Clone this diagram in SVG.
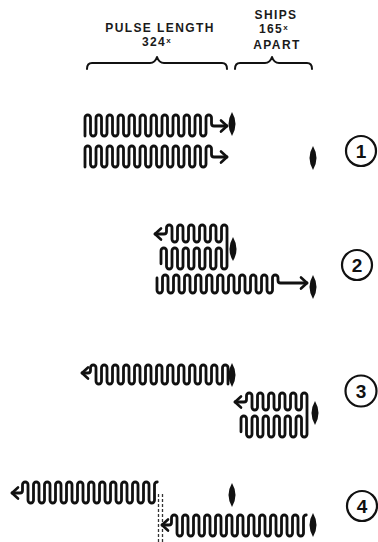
<svg xmlns="http://www.w3.org/2000/svg" width="378" height="542" viewBox="0 0 378 542">
<style>
.bg{fill:#ffffff}
.wave{fill:none;stroke:#111;stroke-width:2.8;stroke-linecap:round;stroke-linejoin:round}
.head{fill:none;stroke:#111;stroke-width:2.6;stroke-linecap:round;stroke-linejoin:round}
.brace{fill:none;stroke:#111;stroke-width:2;stroke-linecap:round;stroke-linejoin:round}
.ship{fill:#111}
.lbl{font-family:"Liberation Sans",Arial,sans-serif;font-weight:bold;font-size:12px;fill:#1a1a1a;letter-spacing:1.4px}
.num{font-family:"Liberation Sans",Arial,sans-serif;font-weight:bold;font-size:19px;fill:#111}
.ring{fill:none;stroke:#111;stroke-width:2.2}
.dash{fill:none;stroke:#333;stroke-width:1.3;stroke-dasharray:3 2}
</style>
<defs>
<path id="ship" class="ship" d="M0,-12Q7,0 0,12Q-7,0 0,-12Z"/>
</defs>
<rect class="bg" x="0" y="0" width="378" height="542"/>

<g id="header">
<text class="lbl" x="160" y="32" text-anchor="middle">PULSE LENGTH</text>
<text class="lbl" x="157" y="46" text-anchor="middle">324<tspan font-size="8" dy="-3">x</tspan></text>
<text class="lbl" x="276" y="19" text-anchor="middle">SHIPS</text>
<text class="lbl" x="274" y="33" text-anchor="middle">165<tspan font-size="8" dy="-3">x</tspan></text>
<text class="lbl" x="277" y="49" text-anchor="middle">APART</text>
<path class="brace" d="M87,69Q87,63 92,63H150Q155,63 157,57Q159,63 164,63H222Q227,63 227,69"/>
<path class="brace" d="M235,69Q235,63 240,63H265Q270,63 272,57Q274,63 279,63H307Q312,63 312,69"/>
</g>

<g id="row1">
<path class="wave" d="M85,136V117.75a2.75 2.75 0 0 1 5.5 0v15.5a2.75 2.75 0 0 0 5.5 0v-15.5a2.75 2.75 0 0 1 5.5 0v15.5a2.75 2.75 0 0 0 5.5 0v-15.5a2.75 2.75 0 0 1 5.5 0v15.5a2.75 2.75 0 0 0 5.5 0v-15.5a2.75 2.75 0 0 1 5.5 0v15.5a2.75 2.75 0 0 0 5.5 0v-15.5a2.75 2.75 0 0 1 5.5 0v15.5a2.75 2.75 0 0 0 5.5 0v-15.5a2.75 2.75 0 0 1 5.5 0v15.5a2.75 2.75 0 0 0 5.5 0v-15.5a2.75 2.75 0 0 1 5.5 0v15.5a2.75 2.75 0 0 0 5.5 0v-15.5a2.75 2.75 0 0 1 5.5 0v15.5a2.75 2.75 0 0 0 5.5 0v-15.5a2.75 2.75 0 0 1 5.5 0v15.5a2.75 2.75 0 0 0 5.5 0v-15.5a2.75 2.75 0 0 1 5.5 0v15.5a2.75 2.75 0 0 0 5.5 0v-15.5a2.75 2.75 0 0 1 5.5 0v15.5a2.75 2.75 0 0 0 5.5 0v-15.5a2.75 2.75 0 0 1 5.5 0V123.5a2.5 2.5 0 0 0 2.5 2.5H227"/>
<path class="head" d="M221,120.5L227,126L221,131.5"/>
<path class="wave" d="M85,167V148.75a2.75 2.75 0 0 1 5.5 0v15.5a2.75 2.75 0 0 0 5.5 0v-15.5a2.75 2.75 0 0 1 5.5 0v15.5a2.75 2.75 0 0 0 5.5 0v-15.5a2.75 2.75 0 0 1 5.5 0v15.5a2.75 2.75 0 0 0 5.5 0v-15.5a2.75 2.75 0 0 1 5.5 0v15.5a2.75 2.75 0 0 0 5.5 0v-15.5a2.75 2.75 0 0 1 5.5 0v15.5a2.75 2.75 0 0 0 5.5 0v-15.5a2.75 2.75 0 0 1 5.5 0v15.5a2.75 2.75 0 0 0 5.5 0v-15.5a2.75 2.75 0 0 1 5.5 0v15.5a2.75 2.75 0 0 0 5.5 0v-15.5a2.75 2.75 0 0 1 5.5 0v15.5a2.75 2.75 0 0 0 5.5 0v-15.5a2.75 2.75 0 0 1 5.5 0v15.5a2.75 2.75 0 0 0 5.5 0v-15.5a2.75 2.75 0 0 1 5.5 0v15.5a2.75 2.75 0 0 0 5.5 0v-15.5a2.75 2.75 0 0 1 5.5 0v15.5a2.75 2.75 0 0 0 5.5 0v-15.5a2.75 2.75 0 0 1 5.5 0V154.5a2.5 2.5 0 0 0 2.5 2.5H227"/>
<path class="head" d="M221,151.5L227,157L221,162.5"/>
<use href="#ship" x="232" y="124"/>
<use href="#ship" x="313" y="158"/>
<circle class="ring" cx="361" cy="151" r="15"/>
<text class="num" x="361" y="158" text-anchor="middle">1</text>
</g>

<g id="row2">
<path class="wave" d="M155,234h9a2.5 2.5 0 0 0 2.5 -2.5v-3.75a2.75 2.75 0 0 1 5.5 0v11.5a2.75 2.75 0 0 0 5.5 0v-11.5a2.75 2.75 0 0 1 5.5 0v11.5a2.75 2.75 0 0 0 5.5 0v-11.5a2.75 2.75 0 0 1 5.5 0v11.5a2.75 2.75 0 0 0 5.5 0v-11.5a2.75 2.75 0 0 1 5.5 0v11.5a2.75 2.75 0 0 0 5.5 0v-11.5a2.75 2.75 0 0 1 5.5 0v11.5a2.75 2.75 0 0 0 5.5 0v-11.5a2.75 2.75 0 0 1 5.5 0v38.5a2.75 2.75 0 0 1 -5.5 0v-15.5a2.75 2.75 0 0 0 -5.5 0v15.5a2.75 2.75 0 0 1 -5.5 0v-15.5a2.75 2.75 0 0 0 -5.5 0v15.5a2.75 2.75 0 0 1 -5.5 0v-15.5a2.75 2.75 0 0 0 -5.5 0v15.5a2.75 2.75 0 0 1 -5.5 0v-15.5a2.75 2.75 0 0 0 -5.5 0v15.5a2.75 2.75 0 0 1 -5.5 0v-15.5a2.75 2.75 0 0 0 -5.5 0v15.5a2.75 2.75 0 0 1 -5.5 0v-15.5a2.75 2.75 0 0 0 -5.5 0v13"/>
<path class="head" d="M161,228.5L155,234L161,239.5"/>
<use href="#ship" x="233" y="249"/>
<path class="wave" d="M157,278V290.25a2.75 2.75 0 0 0 5.5 0v-12.5a2.75 2.75 0 0 1 5.5 0v12.5a2.75 2.75 0 0 0 5.5 0v-12.5a2.75 2.75 0 0 1 5.5 0v12.5a2.75 2.75 0 0 0 5.5 0v-12.5a2.75 2.75 0 0 1 5.5 0v12.5a2.75 2.75 0 0 0 5.5 0v-12.5a2.75 2.75 0 0 1 5.5 0v12.5a2.75 2.75 0 0 0 5.5 0v-12.5a2.75 2.75 0 0 1 5.5 0v12.5a2.75 2.75 0 0 0 5.5 0v-12.5a2.75 2.75 0 0 1 5.5 0v12.5a2.75 2.75 0 0 0 5.5 0v-12.5a2.75 2.75 0 0 1 5.5 0v12.5a2.75 2.75 0 0 0 5.5 0v-12.5a2.75 2.75 0 0 1 5.5 0v12.5a2.75 2.75 0 0 0 5.5 0v-12.5a2.75 2.75 0 0 1 5.5 0v12.5a2.75 2.75 0 0 0 5.5 0v-12.5a2.75 2.75 0 0 1 5.5 0v12.5a2.75 2.75 0 0 0 5.5 0v-12.5a2.75 2.75 0 0 1 5.5 0V280.5a2.5 2.5 0 0 0 2.5 2.5H307"/>
<path class="head" d="M301,277.5L307,283L301,288.5"/>
<use href="#ship" x="313" y="287"/>
<circle class="ring" cx="357" cy="265" r="15"/>
<text class="num" x="357" y="272" text-anchor="middle">2</text>
</g>

<g id="row3">
<path class="wave" d="M82,373H88a2.5 2.5 0 0 0 2.5 -2.5V367.75a2.75 2.75 0 0 1 5.5 0v13.5a2.75 2.75 0 0 0 5.5 0v-13.5a2.75 2.75 0 0 1 5.5 0v13.5a2.75 2.75 0 0 0 5.5 0v-13.5a2.75 2.75 0 0 1 5.5 0v13.5a2.75 2.75 0 0 0 5.5 0v-13.5a2.75 2.75 0 0 1 5.5 0v13.5a2.75 2.75 0 0 0 5.5 0v-13.5a2.75 2.75 0 0 1 5.5 0v13.5a2.75 2.75 0 0 0 5.5 0v-13.5a2.75 2.75 0 0 1 5.5 0v13.5a2.75 2.75 0 0 0 5.5 0v-13.5a2.75 2.75 0 0 1 5.5 0v13.5a2.75 2.75 0 0 0 5.5 0v-13.5a2.75 2.75 0 0 1 5.5 0v13.5a2.75 2.75 0 0 0 5.5 0v-13.5a2.75 2.75 0 0 1 5.5 0v13.5a2.75 2.75 0 0 0 5.5 0v-13.5a2.75 2.75 0 0 1 5.5 0v13.5a2.75 2.75 0 0 0 5.5 0v-13.5a2.75 2.75 0 0 1 5.5 0v13.5a2.75 2.75 0 0 0 5.5 0v-13.5a2.75 2.75 0 0 1 5.5 0v13.5a2.75 2.75 0 0 0 5.5 0v-13.5a2.75 2.75 0 0 1 5.5 0V384"/>
<path class="head" d="M88,367.5L82,373L88,378.5"/>
<use href="#ship" x="232" y="375"/>
<path class="wave" d="M235,402h9a2.5 2.5 0 0 0 2.5 -2.5v-3.75a2.75 2.75 0 0 1 5.5 0v11.5a2.75 2.75 0 0 0 5.5 0v-11.5a2.75 2.75 0 0 1 5.5 0v11.5a2.75 2.75 0 0 0 5.5 0v-11.5a2.75 2.75 0 0 1 5.5 0v11.5a2.75 2.75 0 0 0 5.5 0v-11.5a2.75 2.75 0 0 1 5.5 0v11.5a2.75 2.75 0 0 0 5.5 0v-11.5a2.75 2.75 0 0 1 5.5 0v11.5a2.75 2.75 0 0 0 5.5 0v-11.5a2.75 2.75 0 0 1 5.5 0v38.5a2.75 2.75 0 0 1 -5.5 0v-15.5a2.75 2.75 0 0 0 -5.5 0v15.5a2.75 2.75 0 0 1 -5.5 0v-15.5a2.75 2.75 0 0 0 -5.5 0v15.5a2.75 2.75 0 0 1 -5.5 0v-15.5a2.75 2.75 0 0 0 -5.5 0v15.5a2.75 2.75 0 0 1 -5.5 0v-15.5a2.75 2.75 0 0 0 -5.5 0v15.5a2.75 2.75 0 0 1 -5.5 0v-15.5a2.75 2.75 0 0 0 -5.5 0v15.5a2.75 2.75 0 0 1 -5.5 0v-15.5a2.75 2.75 0 0 0 -5.5 0v13"/>
<path class="head" d="M241,396.5L235,402L241,407.5"/>
<use href="#ship" x="315" y="413"/>
<circle class="ring" cx="361" cy="391" r="15.5"/>
<text class="num" x="361" y="398" text-anchor="middle">3</text>
</g>

<g id="row4">
<path class="wave" d="M12,493H20a2.5 2.5 0 0 0 2.5 -2.5V484.75a2.75 2.75 0 0 1 5.5 0v15.5a2.75 2.75 0 0 0 5.5 0v-15.5a2.75 2.75 0 0 1 5.5 0v15.5a2.75 2.75 0 0 0 5.5 0v-15.5a2.75 2.75 0 0 1 5.5 0v15.5a2.75 2.75 0 0 0 5.5 0v-15.5a2.75 2.75 0 0 1 5.5 0v15.5a2.75 2.75 0 0 0 5.5 0v-15.5a2.75 2.75 0 0 1 5.5 0v15.5a2.75 2.75 0 0 0 5.5 0v-15.5a2.75 2.75 0 0 1 5.5 0v15.5a2.75 2.75 0 0 0 5.5 0v-15.5a2.75 2.75 0 0 1 5.5 0v15.5a2.75 2.75 0 0 0 5.5 0v-15.5a2.75 2.75 0 0 1 5.5 0v15.5a2.75 2.75 0 0 0 5.5 0v-15.5a2.75 2.75 0 0 1 5.5 0v15.5a2.75 2.75 0 0 0 5.5 0v-15.5a2.75 2.75 0 0 1 5.5 0v15.5a2.75 2.75 0 0 0 5.5 0v-15.5a2.75 2.75 0 0 1 5.5 0v15.5a2.75 2.75 0 0 0 5.5 0v-15.5a2.75 2.75 0 0 1 5.5 0v15.5a2.75 2.75 0 0 0 5.5 0v-15.5a2.75 2.75 0 0 1 2.75 -2.75"/>
<path class="head" d="M18,487.5L12,493L18,498.5"/>
<use href="#ship" x="232" y="495"/>
<path class="dash" d="M158.5,494V542"/>
<path class="dash" d="M162.5,494V542"/>
<path class="wave" d="M162,525H169a2.5 2.5 0 0 0 2.5 -2.5V517.75a2.75 2.75 0 0 1 5.5 0v15.5a2.75 2.75 0 0 0 5.5 0v-15.5a2.75 2.75 0 0 1 5.5 0v15.5a2.75 2.75 0 0 0 5.5 0v-15.5a2.75 2.75 0 0 1 5.5 0v15.5a2.75 2.75 0 0 0 5.5 0v-15.5a2.75 2.75 0 0 1 5.5 0v15.5a2.75 2.75 0 0 0 5.5 0v-15.5a2.75 2.75 0 0 1 5.5 0v15.5a2.75 2.75 0 0 0 5.5 0v-15.5a2.75 2.75 0 0 1 5.5 0v15.5a2.75 2.75 0 0 0 5.5 0v-15.5a2.75 2.75 0 0 1 5.5 0v15.5a2.75 2.75 0 0 0 5.5 0v-15.5a2.75 2.75 0 0 1 5.5 0v15.5a2.75 2.75 0 0 0 5.5 0v-15.5a2.75 2.75 0 0 1 5.5 0v15.5a2.75 2.75 0 0 0 5.5 0v-15.5a2.75 2.75 0 0 1 5.5 0v15.5a2.75 2.75 0 0 0 5.5 0v-15.5a2.75 2.75 0 0 1 5.5 0v15.5a2.75 2.75 0 0 0 5.5 0v-15.5a2.75 2.75 0 0 1 5.5 0v15.5a2.75 2.75 0 0 0 5.5 0v-15.5a2.75 2.75 0 0 1 2.75 -2.75"/>
<path class="head" d="M168,519.5L162,525L168,530.5"/>
<use href="#ship" x="313" y="525"/>
<circle class="ring" cx="362" cy="506" r="15"/>
<text class="num" x="362" y="513" text-anchor="middle">4</text>
</g>
</svg>
